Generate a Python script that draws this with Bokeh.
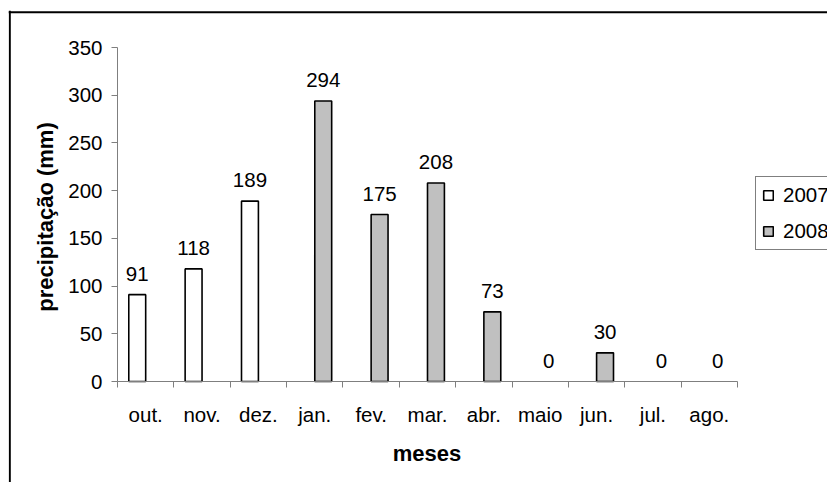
import math
from bokeh.plotting import figure
from bokeh.models import (Range1d, LinearAxis, FixedTicker, ColumnDataSource,
                          Legend, LegendItem, Label, Span)
from bokeh.core.properties import value
from bokeh.embed import file_html
from bokeh.resources import INLINE

# ---------------- data ----------------
months = ["out.", "nov.", "dez.", "jan.", "fev.", "mar.", "abr.", "maio", "jun.", "jul.", "ago."]
rain_2007 = [91, 118, 189, None, None, None, None, None, None, None, None]
rain_2008 = [None, None, None, 294, 175, 208, 73, 0, 30, 0, 0]
series_names = ["2007", "2008"]
y_ticks = [0, 50, 100, 150, 200, 250, 300, 350]
y_title = "precipitação (mm)"
x_title = "meses"

# ---------------- layout (pixels) ----------------
FONT = "Liberation Sans"
TICK_FS = "20.5px"
TITLE_FS = "22px"
FIG_W, FIG_H = 827, 482
AX_L, AX_R = 117, 737
AX_T, AX_B = 47, 381
FRAME_T = 10
FRAME_L = 8
n = len(months)
ux = (AX_R - AX_L) / n
uy = (AX_B - AX_T) / y_ticks[-1]
x0 = -0.5 - (AX_L - FRAME_L) / ux
x1 = x0 + (FIG_W - FRAME_L) / ux
y1 = (AX_B - FRAME_T) / uy
y0 = -(FIG_H - AX_B) / uy


def px_x(px):
    return x0 + (px - FRAME_L) / ux


def px_y(py):
    return y1 - (py - FRAME_T) / uy


BAR_W = 0.3
OFFS = [-0.15, 0.15]
FILLS = ["white", "#c0c0c0"]
AXIS_COLOR = "#7f7f7f"

p = figure(width=FIG_W, height=FIG_H, x_range=Range1d(x0, x1), y_range=Range1d(y0, y1),
           x_axis_type=None, y_axis_type=None, output_backend="svg", toolbar_location=None,
           min_border_left=FRAME_L, min_border_right=0, min_border_top=FRAME_T, min_border_bottom=0,
           outline_line_color=None, background_fill_color="white", border_fill_color="white")

# ---------------- axes ----------------
yaxis = LinearAxis(fixed_location=-0.5, bounds=(y_ticks[0], y_ticks[-1]),
                   ticker=FixedTicker(ticks=y_ticks, minor_ticks=[]),
                   axis_line_color=AXIS_COLOR, major_tick_line_color=AXIS_COLOR,
                   major_tick_in=0, major_tick_out=6, minor_tick_line_color=None,
                   major_label_standoff=9, major_label_text_font=FONT,
                   major_label_text_font_size=TICK_FS, major_label_text_color="black")
p.add_layout(yaxis, "left")

bounds_ticks = [i - 0.5 for i in range(n + 1)]
xaxis = LinearAxis(fixed_location=0, bounds=(-0.5, n - 0.5),
                   ticker=FixedTicker(ticks=bounds_ticks, minor_ticks=[]),
                   axis_line_color=AXIS_COLOR, major_tick_line_color=AXIS_COLOR,
                   major_tick_in=0, major_tick_out=6, minor_tick_line_color=None,
                   major_label_text_color=None)
p.add_layout(xaxis, "below")

xlab = LinearAxis(fixed_location=0, ticker=FixedTicker(ticks=list(range(n)), minor_ticks=[]),
                  major_label_overrides={i: m for i, m in enumerate(months)},
                  axis_line_color=None, major_tick_line_color=None, minor_tick_line_color=None,
                  major_label_standoff=15, major_label_text_font=FONT,
                  major_label_text_font_size=TICK_FS, major_label_text_color="black")
p.add_layout(xlab, "below")

# ---------------- bars & labels ----------------
renderers = []
for s, (vals, off, fill) in enumerate(zip([rain_2007, rain_2008], OFFS, FILLS)):
    xs = [i + off for i, v in enumerate(vals) if v is not None]
    tops = [v for v in vals if v is not None]
    src = ColumnDataSource(dict(x=xs, top=tops, label=[str(v) for v in tops],
                                la=[1.0 if v > 0 else 0.0 for v in tops]))
    r = p.vbar(x="x", top="top", bottom=0, width=BAR_W, source=src,
               fill_color=fill, line_color="black", line_width=1.6, line_alpha="la")
    renderers.append(r)
    p.text(x="x", y="top", text="label", source=src, text_align="center",
           text_baseline="alphabetic", y_offset=-21, text_font=value(FONT),
           text_font_size=TICK_FS, text_color="black")

# ---------------- titles ----------------
p.add_layout(Label(x=px_x(45), y=px_y(216.5), text=y_title, angle=math.pi / 2,
                   text_align="center", text_baseline="middle", text_font=FONT,
                   text_font_size=TITLE_FS, text_font_style="bold", text_color="black"))
p.add_layout(Label(x=px_x(426.5), y=px_y(453), text=x_title,
                   text_align="center", text_baseline="middle", text_font=FONT,
                   text_font_size=TITLE_FS, text_font_style="bold", text_color="black"))

# ---------------- outer border (left & top visible) ----------------
p.add_layout(Span(location=px_x(9.3), dimension="height", line_color="black", line_width=2))
p.add_layout(Span(location=px_y(11.7), dimension="width", line_color="black", line_width=2))

# ---------------- legend ----------------
legend = Legend(items=[LegendItem(label=nm, renderers=[r]) for nm, r in zip(series_names, renderers)],
                location=(755 - FRAME_L, FIG_H - 250), orientation="vertical",
                padding=6, spacing=12, margin=0, glyph_width=12, glyph_height=12,
                label_standoff=9, label_height=12, label_text_font=FONT,
                label_text_font_size=TICK_FS, label_text_color="black",
                border_line_color="black", border_line_width=1,
                background_fill_color="white", background_fill_alpha=1.0)
p.add_layout(legend)

open("out.html", "w").write(file_html(p, INLINE))
